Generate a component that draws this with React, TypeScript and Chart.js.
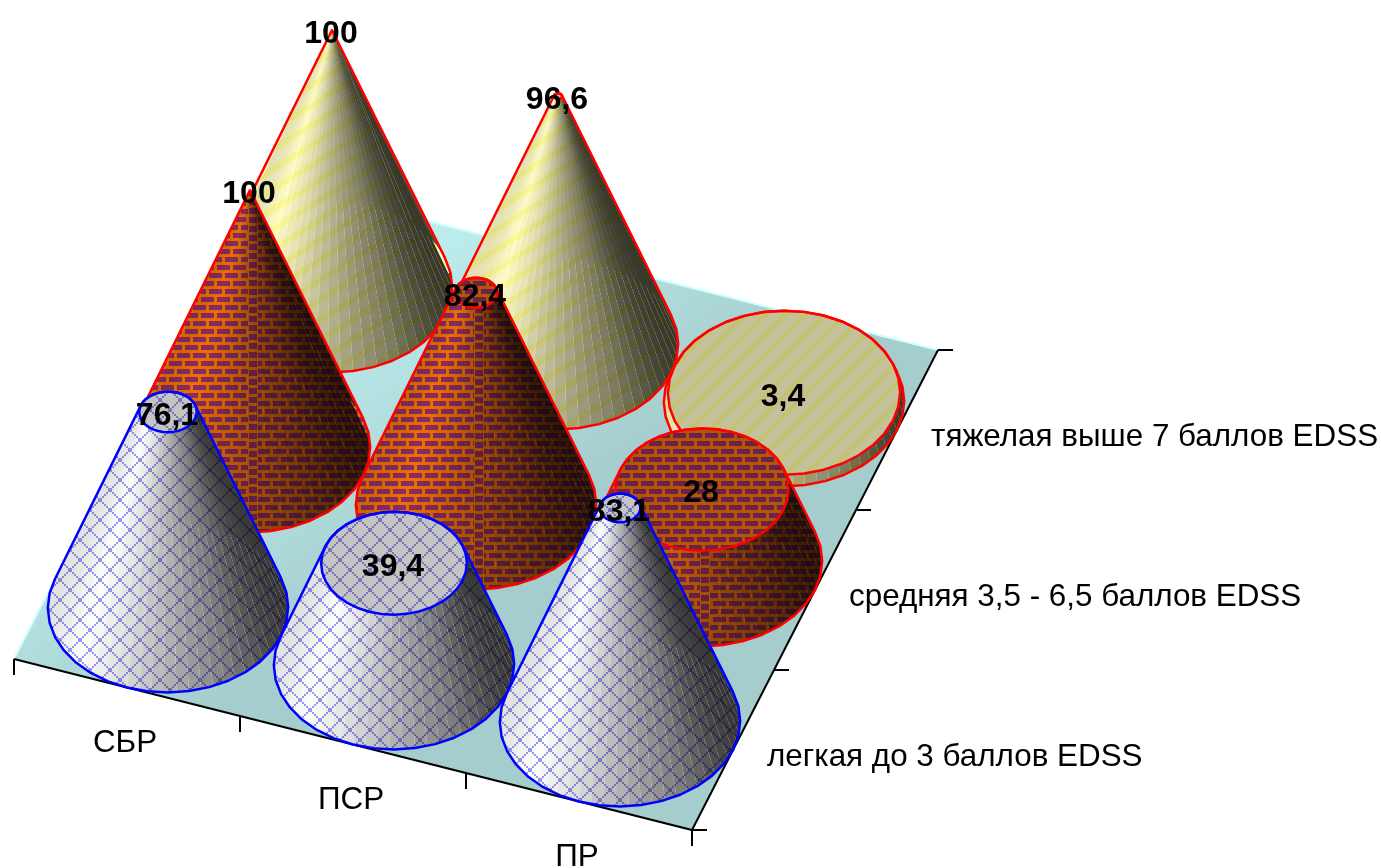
import React, { useEffect, useRef } from "react";
import { Chart, registerables } from "chart.js";

Chart.register(...registerables);

const categories = ["СБР", "ПСР", "ПР"];
const seriesNames = [
  "легкая до 3 баллов EDSS",
  "средняя 3,5 - 6,5 баллов EDSS",
  "тяжелая выше 7 баллов EDSS",
];
const legkaya = [76.1, 39.4, 83.1];
const srednyaya = [100, 82.4, 28];
const tyazhelaya = [100, 96.6, 3.4];
const valueLabels = [
  ["76,1", "39,4", "83,1"],
  ["100", "82,4", "28"],
  ["100", "96,6", "3,4"],
];
const seriesValues = [legkaya, srednyaya, tyazhelaya];

// Oblique projection of the 3D floor into the scale space of the hidden axes
const ORIGIN = { x: 14, y: 659 };
const CAT_STEP = { x: 226, y: 57 };
const SER_STEP = { x: 82, y: -160 };
const HEIGHT_PER_UNIT = 2.57;
const RADIUS = 0.5;
const N = 60;
const OUTLINE_N = 36;

const project = (u: number, v: number, h = 0) => ({
  x: ORIGIN.x + u * CAT_STEP.x + v * SER_STEP.x,
  y: ORIGIN.y + u * CAT_STEP.y + v * SER_STEP.y - h * HEIGHT_PER_UNIT,
});

function tile(w: number, h: number, draw: (c: CanvasRenderingContext2D) => void) {
  const cv = document.createElement("canvas");
  cv.width = w;
  cv.height = h;
  const c = cv.getContext("2d")!;
  draw(c);
  return cv;
}

const latticeTile = () =>
  tile(20, 20, (c) => {
    c.fillStyle = "#ffffff";
    c.fillRect(0, 0, 20, 20);
    c.fillStyle = "#9c9cf0";
    for (let k = 0; k < 20; k += 2) {
      c.fillRect(k, k, 2, 2);
      c.fillRect((18 - k + 20) % 20, k, 2, 2);
    }
  });

const brickTile = () =>
  tile(16, 16, (c) => {
    c.fillStyle = "#ee7000";
    c.fillRect(0, 0, 16, 16);
    c.fillStyle = "#8c2c60";
    c.fillRect(1, 1, 13, 5);
    c.fillRect(9, 9, 7, 5);
    c.fillRect(0, 9, 6, 5);
  });

const brickColumnTile = () =>
  tile(10, 9, (c) => {
    c.fillStyle = "#ee7000";
    c.fillRect(0, 0, 10, 9);
    c.fillStyle = "#8c2c60";
    c.fillRect(1, 1, 8, 6);
  });

const stripeTile = () =>
  tile(20, 20, (c) => {
    c.fillStyle = "#fffcc8";
    c.fillRect(0, 0, 20, 20);
    c.strokeStyle = "#fffc96";
    c.lineWidth = 5;
    [0, 20, 40].forEach((s) => {
      c.beginPath();
      c.moveTo(s + 5, -5);
      c.lineTo(s - 25, 25);
      c.stroke();
    });
  });

const styles = [
  { edge: "#0000ff", tile: latticeTile, sideScale: [1, 1], column: false },
  { edge: "#ff0000", tile: brickTile, sideScale: [1, 1], column: true },
  { edge: "#ff0000", tile: stripeTile, sideScale: [1.6, 1], column: false },
];

const SHADE_STOPS: [number, number][] = [
  [-1, 0.88],
  [-0.75, 1],
  [-0.4, 0.87],
  [0, 0.7],
  [0.5, 0.5],
  [0.85, 0.29],
  [1, 0.22],
];
function shade(s: number) {
  for (let i = 1; i < SHADE_STOPS.length; i++) {
    const [a, va] = SHADE_STOPS[i - 1];
    const [b, vb] = SHADE_STOPS[i];
    if (s <= b) return va + ((s - a) / (b - a)) * (vb - va);
  }
  return 0.22;
}
const gray = (v: number) => {
  const g = Math.round(Math.max(0, Math.min(1, v)) * 255);
  return `rgb(${g},${g},${g})`;
};

type P = { x: number; y: number };
function hull(points: P[]) {
  const pts = [...points].sort((a, b) => a.x - b.x || a.y - b.y);
  const cross = (o: P, a: P, b: P) => (a.x - o.x) * (b.y - o.y) - (a.y - o.y) * (b.x - o.x);
  const lower: P[] = [];
  for (const p of pts) {
    while (lower.length >= 2 && cross(lower[lower.length - 2], lower[lower.length - 1], p) <= 0) lower.pop();
    lower.push(p);
  }
  const upper: P[] = [];
  for (const p of [...pts].reverse()) {
    while (upper.length >= 2 && cross(upper[upper.length - 2], upper[upper.length - 1], p) <= 0) upper.pop();
    upper.push(p);
  }
  return lower.slice(0, -1).concat(upper.slice(0, -1));
}
function tracePoly(c: CanvasRenderingContext2D, pts: P[]) {
  c.beginPath();
  pts.forEach((p, i) => (i ? c.lineTo(p.x, p.y) : c.moveTo(p.x, p.y)));
  c.closePath();
}

const conePlugin = {
  id: "cones",
  beforeDatasetsDraw(chart: any) {
    const c: CanvasRenderingContext2D = chart.ctx;
    const sx = chart.scales.x;
    const sy = chart.scales.y;
    const px = (p: P): P => ({ x: sx.getPixelForValue(p.x), y: sy.getPixelForValue(p.y) });
    const at = (u: number, v: number, h = 0) => px(project(u, v, h));
    const nCat = categories.length;
    const nSer = seriesNames.length;

    c.save();
    // floor
    const floor = [at(0, 0), at(nCat, 0), at(nCat, nSer), at(0, nSer)];
    const grad = c.createLinearGradient(440, 240, 587, 485);
    grad.addColorStop(0, "#bcecec");
    grad.addColorStop(1, "#a5cdcd");
    tracePoly(c, floor);
    c.fillStyle = grad;
    c.fill();
    c.strokeStyle = "#ccffff";
    c.lineWidth = 2;
    c.beginPath();
    c.moveTo(floor[0].x, floor[0].y);
    c.lineTo(floor[3].x, floor[3].y);
    c.lineTo(floor[2].x, floor[2].y);
    c.stroke();

    // axes
    c.strokeStyle = "#000000";
    c.lineWidth = 2;
    c.beginPath();
    c.moveTo(floor[0].x, floor[0].y);
    c.lineTo(floor[1].x, floor[1].y);
    c.lineTo(floor[2].x, floor[2].y);
    for (let i = 0; i <= nCat; i++) {
      const t = at(i, 0);
      c.moveTo(t.x, t.y);
      c.lineTo(t.x, t.y + 16);
    }
    for (let j = 0; j <= nSer; j++) {
      const t = at(nCat, j);
      c.moveTo(t.x, t.y);
      c.lineTo(t.x + 15, t.y);
    }
    c.stroke();

    // cones, back row first
    for (let j = nSer - 1; j >= 0; j--) {
      const topPattern = c.createPattern(styles[j].tile(), "repeat")!;
      const sidePattern = c.createPattern(styles[j].tile(), "repeat")!;
      sidePattern.setTransform(new DOMMatrix().scale(styles[j].sideScale[0], styles[j].sideScale[1]));
      const columnPattern = c.createPattern(brickColumnTile(), "repeat")!;
      for (let i = 0; i < nCat; i++) {
        const value = seriesValues[j][i];
        const u = i + 0.5;
        const v = j + 0.5;
        const topR = RADIUS * (1 - value / 100);
        const ring = (n: number, r: number, h: number) =>
          Array.from({ length: n }, (_, k) => {
            const t = (k / n) * Math.PI * 2;
            return at(u + r * Math.cos(t), v + r * Math.sin(t), h);
          });
        const baseFine = ring(N, RADIUS, 0);
        const topFine = ring(N, Math.max(topR, 0.001), value);
        const baseOut = ring(OUTLINE_N, RADIUS, 0);
        const topOut = ring(OUTLINE_N, Math.max(topR, 0.001), value);
        const sil = hull([...baseOut, ...topOut]);
        const centre = at(u, v);
        const rx = Math.max(...baseFine.map((p) => Math.abs(p.x - centre.x)));

        c.save();
        tracePoly(c, sil);
        c.clip();
        c.fillStyle = "#ffffff";
        c.fillRect(centre.x - 300, centre.y - 400, 600, 800);
        const order = baseFine
          .map((p, k) => ({ p, k }))
          .sort((m, n) => m.p.y - n.p.y);
        for (const { k } of order) {
          const k2 = (k + 1) % N;
          const midX = (baseFine[k].x + baseFine[k2].x) / 2;
          tracePoly(c, [baseFine[k], baseFine[k2], topFine[k2], topFine[k]]);
          c.fillStyle = gray(shade((midX - centre.x) / rx));
          c.fill();
        }
        c.globalCompositeOperation = "multiply";
        if (styles[j].column) {
          const cx = Math.round(centre.x) - 2;
          c.fillStyle = sidePattern;
          c.fillRect(centre.x - 300, centre.y - 400, cx - (centre.x - 300), 800);
          c.fillRect(cx + 10, centre.y - 400, 300, 800);
          c.save();
          c.translate(cx, 0);
          c.fillStyle = columnPattern;
          c.fillRect(0, centre.y - 400, 10, 800);
          c.restore();
        } else {
          c.fillStyle = sidePattern;
          c.fillRect(centre.x - 300, centre.y - 400, 600, 800);
        }
        c.restore();

        // top face
        if (topR > 0.001) {
          c.save();
          tracePoly(c, topOut);
          c.clip();
          c.fillStyle = gray(0.77);
          c.fill();
          c.globalCompositeOperation = "multiply";
          c.fillStyle = topPattern;
          c.fillRect(centre.x - 300, centre.y - 400, 600, 800);
          c.restore();
        }

        c.strokeStyle = styles[j].edge;
        c.lineWidth = 2.5;
        c.lineJoin = "round";
        tracePoly(c, sil);
        c.stroke();
        if (topR > 0.001) {
          tracePoly(c, topOut);
          c.stroke();
        }
      }
    }
    c.restore();
  },
  afterDatasetsDraw(chart: any) {
    const c: CanvasRenderingContext2D = chart.ctx;
    const sx = chart.scales.x;
    const sy = chart.scales.y;
    const at = (u: number, v: number, h = 0) => {
      const p = project(u, v, h);
      return { x: sx.getPixelForValue(p.x), y: sy.getPixelForValue(p.y) };
    };
    c.save();
    c.fillStyle = "#000000";
    c.textBaseline = "middle";
    // value labels
    c.font = 'bold 32px "Liberation Sans"';
    c.textAlign = "center";
    seriesValues.forEach((vals, j) =>
      vals.forEach((val, i) => {
        const p = at(i + 0.5, j + 0.5, val);
        c.fillText(valueLabels[j][i], p.x - 1, p.y + 4);
      })
    );
    // axis labels
    c.font = '31.4px "Liberation Sans"';
    categories.forEach((name, i) => {
      const p = at(i + 0.5, 0);
      c.fillText(name, p.x - 2, p.y + 56);
    });
    c.textAlign = "left";
    seriesNames.forEach((name, j) => {
      const p = at(categories.length, j + 0.5);
      c.fillText(name, p.x + 34, p.y + 7);
    });
    c.restore();
  },
};

export default function App() {
  const ref = useRef<HTMLCanvasElement>(null);
  useEffect(() => {
    document.body.style.margin = "0";
    document.body.style.background = "#ffffff";
    const chart = new Chart(ref.current!, {
      type: "scatter",
      data: {
        datasets: seriesNames.map((name, j) => ({
          label: name,
          data: seriesValues[j].map((val, i) => project(i + 0.5, j + 0.5, val)),
          pointRadius: 0,
          showLine: false,
        })),
      },
      options: {
        animation: false,
        responsive: false,
        layout: { padding: 0 },
        plugins: { legend: { display: false }, tooltip: { enabled: false } },
        scales: {
          x: { type: "linear", min: 0, max: 1381, display: false },
          y: { type: "linear", min: 0, max: 868, reverse: true, display: false },
        },
      },
      plugins: [conePlugin],
    } as any);
    return () => chart.destroy();
  }, []);
  return <canvas ref={ref} width={1381} height={868} style={{ display: "block" }} />;
}
